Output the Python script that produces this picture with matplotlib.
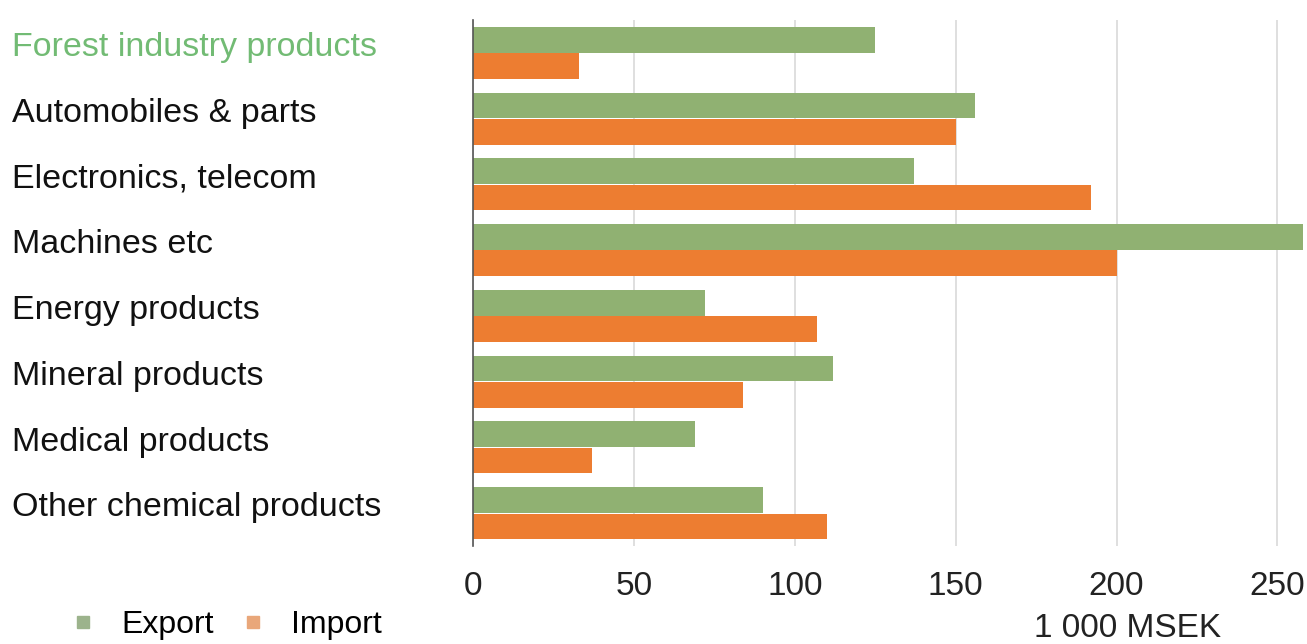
import numpy as np
import matplotlib
matplotlib.use('Agg')
import matplotlib.pyplot as plt
from matplotlib.lines import Line2D
from matplotlib.transforms import blended_transform_factory

plt.rcParams['font.family'] = ['Liberation Sans', 'DejaVu Sans']

# ── Data (1 000 MSEK) ──────────────────────────────────────
categories = ['Forest industry products', 'Automobiles & parts',
              'Electronics, telecom', 'Machines etc', 'Energy products',
              'Mineral products', 'Medical products', 'Other chemical products']
export_vals = [125, 156, 137, 258, 72, 112, 69, 90]
import_vals = [33, 150, 192, 200, 107, 84, 37, 110]
xticks = [0, 50, 100, 150, 200, 250]

GREEN = '#90b172'
ORANGE = '#ed7d31'
LABEL_GREEN = '#72bb74'

fig = plt.figure(figsize=(13.07, 6.44), dpi=100)
ax = fig.add_axes([0.362, 0.152, 0.635, 0.817])

y = np.arange(len(categories))
h = 0.39
ax.barh(y - 0.2, export_vals, height=h, color=GREEN, zorder=2)
ax.barh(y + 0.2, import_vals, height=h, color=ORANGE, zorder=2)

ax.set_xlim(0, 258)
ax.set_ylim(len(categories) - 0.5, -0.5)
ax.set_xticks(xticks)
ax.set_xticklabels([str(t) for t in xticks], fontsize=24, color='#222222')
ax.tick_params(axis='x', length=0, pad=18)
ax.set_yticks([])
ax.grid(axis='x', color='#d9d9d9', linewidth=1.2, zorder=0)
for s in ['top', 'right', 'bottom']:
    ax.spines[s].set_visible(False)
ax.spines['left'].set_color('#555555')
ax.spines['left'].set_linewidth(1.2)

# category labels, left-aligned at figure edge
tr = blended_transform_factory(fig.transFigure, ax.transData)
for i, name in enumerate(categories):
    ax.text(12 / 1307, i - 0.08, name, transform=tr, ha='left', va='center',
            fontsize=24.5, color=LABEL_GREEN if i == 0 else '#111111')

ax.set_xlabel('1 000 MSEK', fontsize=24, color='#222222')
ax.xaxis.set_label_coords(0.789, -0.172)
ax.xaxis.label.set_va('baseline')

handles = [Line2D([0], [0], marker='s', linestyle='', markersize=9,
                  color='#9cb38c', label='Export'),
           Line2D([0], [0], marker='s', linestyle='', markersize=9,
                  color='#e9a77a', label='Import')]
fig.legend(handles=handles, loc='center left', bbox_to_anchor=(0.032, 0.029),
           ncol=2, frameon=False, fontsize=23, handlelength=0.8,
           handletextpad=0.8, columnspacing=0.8)

fig.savefig('out.png', dpi=100)
